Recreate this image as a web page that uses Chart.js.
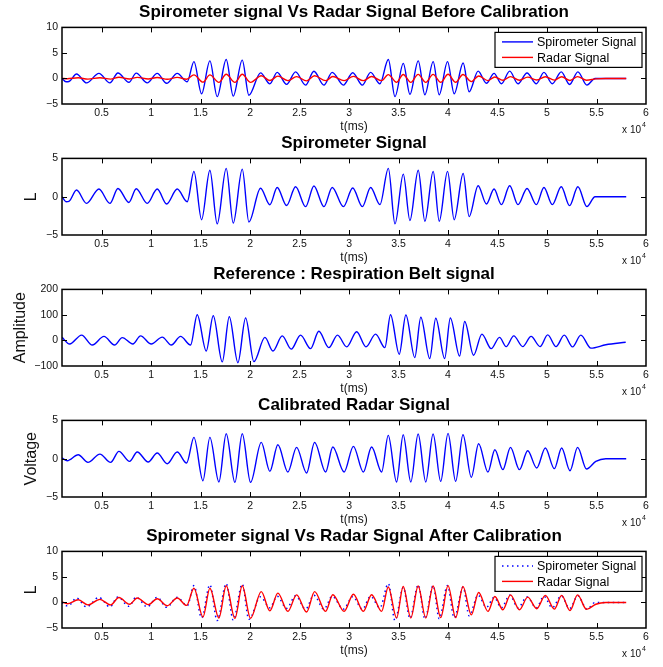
<!DOCTYPE html>
<html>
<head>
<meta charset="utf-8">
<script src="https://cdn.jsdelivr.net/npm/chart.js@4.4.0/dist/chart.umd.min.js"></script>
<style>
  body { margin: 0; background: #fff; }
  #wrap { position: relative; width: 663px; height: 667px; }
  canvas { position: absolute; left: 0; }
</style>
</head>
<body>
<div id="wrap">
  <canvas id="p1" width="663" height="134" style="top:0px"></canvas>
  <canvas id="p2" width="663" height="134" style="top:131px"></canvas>
  <canvas id="p3" width="663" height="134" style="top:262px"></canvas>
  <canvas id="p4" width="663" height="134" style="top:393px"></canvas>
  <canvas id="p5" width="663" height="134" style="top:524px"></canvas>
</div>
<script>
// x axis (ms), tick marks every 5000 ms, labelled in units of 10^4
const xTicks = [5000, 10000, 15000, 20000, 25000, 30000, 35000, 40000, 45000, 50000, 55000, 60000];

// spirometer signal (L) - peaks / troughs
const spiroTime = [1000, 1400, 1700, 2470, 3480, 4730, 5840, 6650, 7760, 8500,
  9610, 10620, 11570, 12640, 13650, 14330, 15100, 15940, 16680, 17590,
  18300, 19210, 19880, 21060, 22000, 22740, 23690, 24600, 25610, 26450,
  27460, 28300, 29430, 30370, 31340, 32180, 33120, 33970, 34640, 35480,
  36150, 36990, 37660, 38500, 39110, 39950, 40620, 41530, 42130, 43040,
  43880, 44650, 45390, 46230, 47070, 47980, 48920, 49690, 50530, 51440,
  52280, 53120, 54030, 54850, 58000];
const spiroValue = [0, -0.65, -0.6, 0.87, -0.87, 1.0, -0.87, 1.08, -0.75, 1.04,
  -0.87, 1.0, -0.95, 1.0, -0.65, 3.3, -3.0, 3.45, -3.55, 3.7,
  -3.45, 3.6, -3.3, 1.1, -1.05, 1.2, -1.15, 1.3, -1.3, 1.4,
  -1.3, 1.2, -1.3, 1.13, -1.3, 1.2, -1.04, 3.7, -3.55, 2.95,
  -3.1, 3.45, -3.2, 3.3, -3.2, 3.3, -3.0, 3.03, -2.6, 1.43,
  -0.95, 1.0, -1.04, 1.43, -1.04, 1.08, -1.04, 1.2, -1.04, 1.3,
  -1.17, 1.3, -1.3, 0, 0];

// radar signal: calibrated (Voltage) and raw (before calibration)
const radarTime = [1000, 1530, 2640, 3620, 4830, 5910, 6750, 7830, 8600, 9710,
  10620, 11630, 12640, 13590, 14330, 15240, 15940, 16850, 17590, 18470,
  19210, 20050, 21130, 22000, 22810, 23820, 24700, 25710, 26520, 27630,
  28360, 29500, 30440, 31440, 32280, 33290, 33960, 34800, 35470, 36240,
  36980, 37750, 38490, 39260, 40000, 40770, 41510, 42350, 43090, 44030,
  44730, 45540, 46310, 47210, 48050, 48960, 49830, 50740, 51480, 52320,
  53090, 53990, 54930, 55940, 58000];
const radarValue = [0.1, -0.26, 0.52, -0.48, 0.6, -0.48, 0.96, -0.35, 0.87, -0.43,
  0.74, -0.65, 0.87, -0.57, 2.78, -2.87, 2.78, -3.04, 3.26, -3.09,
  3.26, -3.09, 2.13, -1.65, 1.83, -1.74, 1.48, -1.87, 2.13, -1.74,
  1.52, -1.74, 1.61, -1.74, 1.52, -1.74, 3.04, -3.04, 3.13, -3.04,
  3.22, -3.04, 3.22, -2.96, 3.3, -2.96, 3.13, -2.43, 1.96, -1.74,
  1.17, -1.43, 1.48, -1.43, 1.04, -1.22, 1.39, -1.3, 1.39, -1.57,
  1.48, -1.35, -0.35, 0, 0];
const radarRawValue = [0.02, -0.06, 0.13, -0.12, 0.15, -0.12, 0.24, -0.09, 0.22, -0.11,
  0.18, -0.16, 0.22, -0.14, 0.7, -0.72, 0.7, -0.76, 0.82, -0.77,
  0.82, -0.77, 0.53, -0.41, 0.46, -0.43, 0.37, -0.47, 0.53, -0.43,
  0.38, -0.43, 0.4, -0.43, 0.38, -0.43, 0.76, -0.76, 0.78, -0.76,
  0.8, -0.76, 0.8, -0.74, 0.82, -0.74, 0.78, -0.61, 0.49, -0.43,
  0.29, -0.36, 0.37, -0.36, 0.26, -0.3, 0.35, -0.32, 0.35, -0.39,
  0.37, -0.34, -0.09, 0, 0];

// respiration belt (Amplitude)
const beltTime = [1000, 1770, 2980, 4060, 5240, 6310, 7090, 8160, 8940, 10020,
  11130, 12040, 12980, 13990, 14660, 15570, 16280, 17190, 17900, 18770,
  19550, 20390, 21500, 22310, 23250, 24160, 25100, 26110, 26950, 27960,
  28830, 29770, 30770, 31710, 32680, 33620, 34190, 35070, 35740, 36640,
  37250, 38150, 38760, 39660, 40230, 41170, 41680, 42580, 43420, 44360,
  45200, 45870, 46640, 47550, 48390, 49300, 50070, 50910, 51740, 52580,
  53420, 54430, 55940, 57950];
const beltValue = [12, -14, 21, -18, 16, -18, 11, -14, 18, -14,
  13, -18, 16, -18, 101, -41, 97, -84, 93, -87,
  88, -83, 12, -41, 18, -34, 21, -32, 36, -28,
  21, -25, 34, -25, 25, -28, 101, -54, 100, -67,
  91, -71, 87, -71, 88, -61, 74, -58, 25, -32,
  12, -24, 18, -24, 16, -24, 22, -24, 21, -25,
  21, -30, -17, -7];

const yTicksL = [-5, 0, 5, 10];
const yTicksSpiro = [-5, 0, 5];
const yTicksBelt = [-100, 0, 100, 200];
const yTicksVolt = [-5, 0, 5];

const FONT = "'Liberation Sans', Arial, Helvetica, sans-serif";
Chart.defaults.font.family = FONT;
Chart.defaults.color = '#111';

const pts = (xs, ys) => xs.map((t, i) => ({ x: t, y: ys[i] }));

// matlab style box, inner ticks, x10^4 and boxed legend
const matlabAxes = {
  id: 'matlabAxes',
  afterDatasetsDraw(chart, args, opts) {
    const { ctx, chartArea: a, scales: { x, y } } = chart;
    ctx.save();
    ctx.strokeStyle = '#000';
    ctx.lineWidth = 1;
    ctx.beginPath();
    x.ticks.forEach(t => {
      const px = Math.round(x.getPixelForValue(t.value)) + 0.5;
      if (px < a.left + 2 || px > a.right - 2) return;
      ctx.moveTo(px, a.bottom); ctx.lineTo(px, a.bottom - 5);
      ctx.moveTo(px, a.top); ctx.lineTo(px, a.top + 5);
    });
    y.ticks.forEach(t => {
      const py = Math.round(y.getPixelForValue(t.value)) + 0.5;
      if (py < a.top + 2 || py > a.bottom - 2) return;
      ctx.moveTo(a.left, py); ctx.lineTo(a.left + 5, py);
      ctx.moveTo(a.right, py); ctx.lineTo(a.right - 5, py);
    });
    ctx.stroke();
    ctx.lineWidth = 1.5;
    ctx.strokeRect(a.left, a.top, a.right - a.left, a.bottom - a.top);

    ctx.fillStyle = '#111';
    ctx.font = '10px ' + FONT;
    ctx.textAlign = 'right';
    ctx.textBaseline = 'alphabetic';
    ctx.fillText('x 10', a.right - 5, chart.height - 1);
    ctx.font = '7px ' + FONT;
    ctx.textAlign = 'left';
    ctx.fillText('4', a.right - 4, chart.height - 7);

    if (opts.legend) {
      const bw = 147, bh = 35;
      const bx = a.right - 4 - bw, by = a.top + 5;
      ctx.fillStyle = '#fff';
      ctx.fillRect(bx, by, bw, bh);
      ctx.lineWidth = 1.2;
      ctx.strokeStyle = '#000';
      ctx.strokeRect(bx, by, bw, bh);
      chart.data.datasets.forEach((ds, i) => {
        const cy = by + 9.5 + i * 15.5;
        ctx.strokeStyle = ds.borderColor;
        ctx.lineWidth = ds.borderWidth;
        ctx.setLineDash(ds.borderDash || []);
        ctx.beginPath();
        ctx.moveTo(bx + 7, cy); ctx.lineTo(bx + 38, cy);
        ctx.stroke();
        ctx.setLineDash([]);
        ctx.fillStyle = '#000';
        ctx.font = '12.5px ' + FONT;
        ctx.textAlign = 'left';
        ctx.textBaseline = 'middle';
        ctx.fillText(ds.label, bx + 42, cy + 1);
      });
    }
    ctx.restore();
  }
};

function makePanel(id, title, datasets, yMin, yMax, yTicks, yTitle, yTitlePad, legend) {
  return new Chart(document.getElementById(id), {
    type: 'line',
    data: { datasets: datasets },
    plugins: [matlabAxes],
    options: {
      responsive: false,
      animation: false,
      layout: { padding: { left: 0, right: 17, top: 0, bottom: 0 } },
      elements: { point: { radius: 0 }, line: { cubicInterpolationMode: 'monotone' } },
      plugins: {
        legend: { display: false },
        tooltip: { enabled: false },
        title: {
          display: true, text: title, color: '#000', fullSize: false,
          font: { size: 17, weight: 'bold' },
          padding: { top: 2, bottom: 5 }
        },
        matlabAxes: { legend: legend }
      },
      scales: {
        x: {
          type: 'linear', min: 1000, max: 60000,
          afterBuildTicks: s => { s.ticks = xTicks.map(v => ({ value: v })); },
          afterFit: s => { s.height = 30; },
          grid: { display: false, drawTicks: false },
          border: { display: false },
          ticks: { font: { size: 10.5 }, padding: 3, maxRotation: 0, callback: v => String(v / 10000) },
          title: { display: true, text: 't(ms)', font: { size: 12 }, padding: { top: 0, bottom: 0 } }
        },
        y: {
          min: yMin, max: yMax,
          afterBuildTicks: s => { s.ticks = yTicks.map(v => ({ value: v })); },
          afterFit: s => { s.width = 62; },
          grid: { display: false, drawTicks: false },
          border: { display: false },
          ticks: { font: { size: 10.5 }, padding: 4, callback: v => String(v).replace('-', '\u2212') },
          title: { display: !!yTitle, text: yTitle, font: { size: 16 }, padding: { top: yTitlePad, bottom: 0 } }
        }
      }
    }
  });
}

makePanel('p1', 'Spirometer signal Vs Radar Signal Before Calibration', [
  { label: 'Spirometer Signal', data: pts(spiroTime, spiroValue), borderColor: '#0000ff', borderWidth: 1.4, order: 2 },
  { label: 'Radar Signal', data: pts(radarTime, radarRawValue), borderColor: '#ff0000', borderWidth: 1.4, order: 1 }
], -5, 10, yTicksL, '', 0, true);

makePanel('p2', 'Spirometer Signal', [
  { label: 'Spirometer Signal', data: pts(spiroTime, spiroValue), borderColor: '#0000ff', borderWidth: 1.4 }
], -5, 5, yTicksSpiro, 'L', 22, false);

makePanel('p3', 'Reference : Respiration Belt signal', [
  { label: 'Respiration Belt', data: pts(beltTime, beltValue), borderColor: '#0000ff', borderWidth: 1.4 }
], -100, 200, yTicksBelt, 'Amplitude', 11, false);

makePanel('p4', 'Calibrated Radar Signal', [
  { label: 'Radar Signal', data: pts(radarTime, radarValue), borderColor: '#0000ff', borderWidth: 1.4 }
], -5, 5, yTicksVolt, 'Voltage', 22, false);

makePanel('p5', 'Spirometer signal Vs Radar Signal After Calibration', [
  { label: 'Spirometer Signal', data: pts(spiroTime, spiroValue), borderColor: '#0000ff', borderWidth: 1.5, borderDash: [1.5, 3.5], order: 2 },
  { label: 'Radar Signal', data: pts(radarTime, radarValue), borderColor: '#ff0000', borderWidth: 1.4, order: 1 }
], -5, 10, yTicksL, 'L', 22, true);
</script>
</body>
</html>
